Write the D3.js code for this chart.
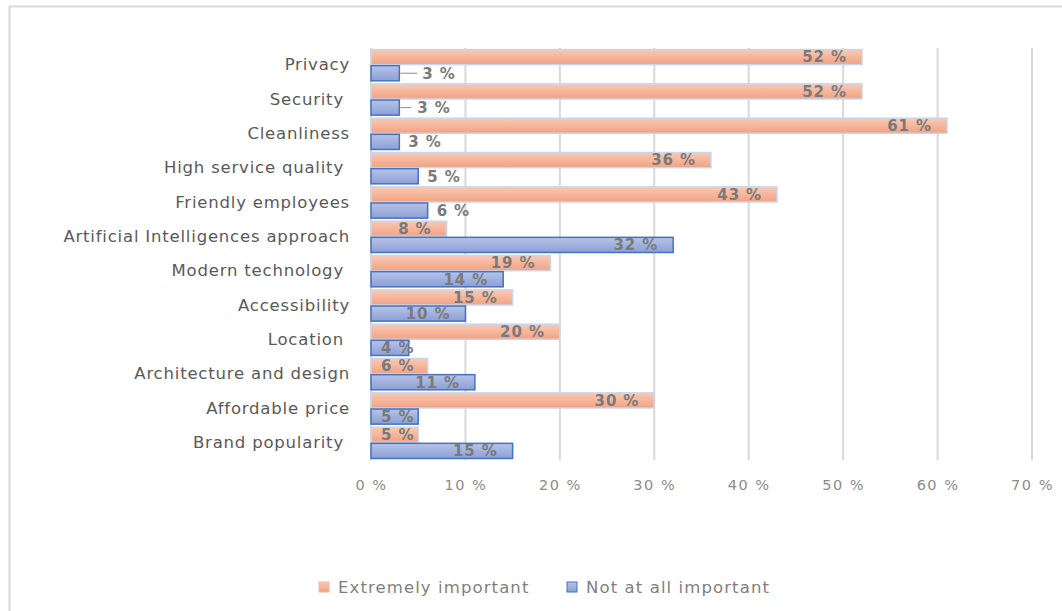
<!DOCTYPE html>
<html>
<head>
<meta charset="utf-8">
<script src="https://cdn.jsdelivr.net/npm/d3@7"></script>
<style>
  body { margin: 0; background: #fff; }
  svg { display: block; }
  svg text { font-family: "DejaVu Sans", sans-serif; }
</style>
</head>
<body>
<svg id="chart" width="1062" height="611"></svg>
<script>
var categories = ["Privacy", "Security ", "Cleanliness", "High service quality ", "Friendly employees",
    "Artificial Intelligences approach", "Modern technology ", "Accessibility", "Location ",
    "Architecture and design", "Affordable price", "Brand popularity "];
var extremely = [52, 52, 61, 36, 43, 8, 19, 15, 20, 6, 30, 5];
var notAtAll = [3, 3, 3, 5, 6, 32, 14, 10, 4, 11, 5, 15];
var seriesNames = ["Extremely important", "Not at all important"];
var ticks = [0, 10, 20, 30, 40, 50, 60, 70];

var svg = d3.select("#chart");
var margin = { top: 48, left: 371, right: 1032, bottom: 460 };

// frame
svg.append("rect").attr("x", 9.5).attr("y", 6.5).attr("width", 1100).attr("height", 700)
    .attr("fill", "none").attr("stroke", "#d9d9d9").attr("stroke-width", 2);

var defs = svg.append("defs");
function grad(id, c1, c2) {
    var g = defs.append("linearGradient").attr("id", id).attr("x1", 0).attr("y1", 0).attr("x2", 0).attr("y2", 1);
    g.append("stop").attr("offset", "0%").attr("stop-color", c1);
    g.append("stop").attr("offset", "100%").attr("stop-color", c2);
}
grad("gOrange", "#f9c9b3", "#f2a283");
grad("gBlue", "#b7c4e7", "#8c9fd6");

var x = d3.scaleLinear().domain([0, 70]).range([margin.left, margin.right]);
var y = d3.scaleBand().domain(categories).range([margin.top, margin.bottom]).paddingInner(0.06).paddingOuter(0.03);
var ySub = d3.scaleBand().domain(seriesNames).range([0, y.bandwidth()]);

// grid
svg.append("g").selectAll("line").data(ticks).enter().append("line")
    .attr("x1", function(d) { return x(d); }).attr("x2", function(d) { return x(d); })
    .attr("y1", margin.top).attr("y2", margin.bottom)
    .attr("stroke", "#d9d9d9").attr("stroke-width", 2);

// x tick labels
var xAxis = svg.append("g").attr("transform", "translate(0," + (margin.bottom + 10) + ")")
    .call(d3.axisBottom(x).tickValues(ticks).tickSize(0).tickPadding(10).tickFormat(function(d) { return d + " %"; }));
xAxis.select(".domain").remove();
xAxis.selectAll("text").attr("fill", "#8c8c8c").style("font-size", "14.5px").style("letter-spacing", "1.5px");

// category labels
var yAxis = svg.append("g").attr("transform", "translate(" + (margin.left - 21) + ",0)")
    .call(d3.axisLeft(y).tickSize(0).tickPadding(0));
yAxis.select(".domain").remove();
yAxis.selectAll("text").attr("fill", "#595959").style("font-size", "16.5px")
    .style("letter-spacing", "0.8px").style("white-space", "pre");

var rows = categories.map(function(c, i) {
    return { cat: c.trim(), key: c, vals: [extremely[i], notAtAll[i]] };
});

var groups = svg.append("g").selectAll("g").data(rows).enter().append("g")
    .attr("transform", function(d) { return "translate(0," + y(d.key) + ")"; });

function items(d) {
    return d.vals.map(function(v, j) { return { s: seriesNames[j], v: v, j: j, cat: d.cat }; });
}
function isOutside(d) {
    return d.v <= 3 || (d.j === 1 && (d.cat === "High service quality" || d.cat === "Friendly employees"));
}

groups.selectAll("rect").data(items).enter().append("rect")
    .attr("x", x(0))
    .attr("y", function(d) { return ySub(d.s) + 0.5; })
    .attr("width", function(d) { return x(d.v) - x(0); })
    .attr("height", ySub.bandwidth() - 1)
    .attr("fill", function(d) { return d.j === 0 ? "url(#gOrange)" : "url(#gBlue)"; })
    .attr("stroke", function(d) { return d.j === 0 ? "#c9d6ee" : "#4472c4"; })
    .attr("stroke-width", 1.5);

// data labels: inside end, small ones outside, kept inside the bar start
groups.selectAll("text.lbl").data(items).enter().append("text")
    .attr("class", "lbl")
    .attr("y", function(d) { return ySub(d.s) + ySub.bandwidth() / 2; })
    .attr("dy", "0.36em")
    .attr("text-anchor", "start")
    .attr("fill", "#7a7a7a")
    .style("font-size", "15px")
    .style("font-weight", "bold")
    .style("letter-spacing", "0.9px")
    .text(function(d) { return d.v + " %"; })
    .attr("x", function(d) {
        if (isOutside(d)) {
            if (d.cat === "Privacy") return x(d.v) + 23;
            if (d.cat === "Security") return x(d.v) + 18;
            return x(d.v) + 9;
        }
        var w = this.getComputedTextLength();
        return Math.max(x(d.v) - 15 - w, x(0) + 10);
    });

// leader lines for the first two rows
groups.filter(function(d) { return d.cat === "Privacy" || d.cat === "Security"; })
    .append("line")
    .attr("x1", function(d) { return x(d.vals[1]) + 1; })
    .attr("x2", function(d) { return x(d.vals[1]) + (d.cat === "Privacy" ? 18 : 12); })
    .attr("y1", ySub(seriesNames[1]) + ySub.bandwidth() / 2)
    .attr("y2", ySub(seriesNames[1]) + ySub.bandwidth() / 2)
    .attr("stroke", "#8c8c8c").attr("stroke-width", 1);

// legend
var legendX = [319, 567];
var legend = svg.append("g").selectAll("g").data(seriesNames).enter().append("g")
    .attr("transform", function(d, i) { return "translate(" + legendX[i] + ",587)"; });
legend.append("rect").attr("x", 0).attr("y", -5).attr("width", 10).attr("height", 10)
    .attr("fill", function(d, i) { return i === 0 ? "url(#gOrange)" : "url(#gBlue)"; })
    .attr("stroke", function(d, i) { return i === 0 ? "#f2b79d" : "#4472c4"; })
    .attr("stroke-width", 1);
legend.append("text").attr("x", 19).attr("dy", "0.36em")
    .attr("fill", "#7f7f7f").style("font-size", "16.5px").style("letter-spacing", "1.1px")
    .text(function(d) { return d; });
</script>
</body>
</html>
